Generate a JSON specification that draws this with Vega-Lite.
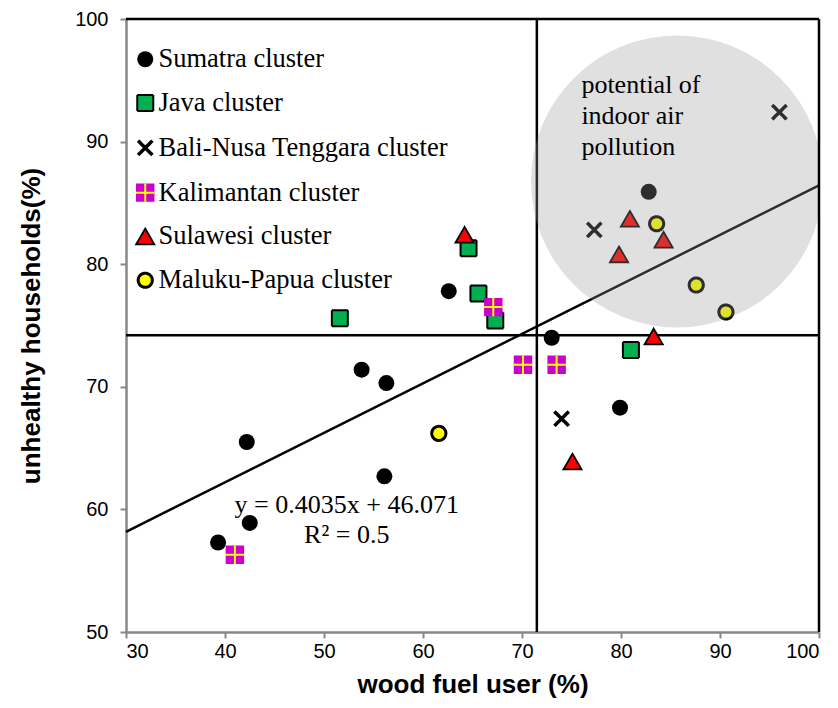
{
  "$schema": "https://vega.github.io/schema/vega-lite/v6.json",
  "width": 693,
  "height": 613,
  "autosize": {"type": "none"},
  "padding": {"left": 126, "top": 19, "right": 19, "bottom": 76},
  "background": "white",
  "config": {"view": {"stroke": null}, "font": "Liberation Sans"},
  "datasets": {
    "points": [
      {"cluster": "Sumatra cluster", "x": 53.8, "y": 71.4},
      {"cluster": "Sumatra cluster", "x": 56.3, "y": 70.3},
      {"cluster": "Sumatra cluster", "x": 42.2, "y": 65.5},
      {"cluster": "Sumatra cluster", "x": 56.1, "y": 62.7},
      {"cluster": "Sumatra cluster", "x": 42.5, "y": 58.9},
      {"cluster": "Sumatra cluster", "x": 39.3, "y": 57.3},
      {"cluster": "Sumatra cluster", "x": 62.6, "y": 77.8},
      {"cluster": "Sumatra cluster", "x": 73.0, "y": 74.0},
      {"cluster": "Sumatra cluster", "x": 79.9, "y": 68.3},
      {"cluster": "Sumatra cluster", "x": 82.8, "y": 85.9},
      {"cluster": "Java cluster", "x": 64.6, "y": 81.3},
      {"cluster": "Java cluster", "x": 65.6, "y": 77.6},
      {"cluster": "Java cluster", "x": 51.6, "y": 75.6},
      {"cluster": "Java cluster", "x": 67.3, "y": 75.4},
      {"cluster": "Java cluster", "x": 81.0, "y": 73.0},
      {"cluster": "Bali-Nusa Tenggara cluster", "x": 96.0, "y": 92.4},
      {"cluster": "Bali-Nusa Tenggara cluster", "x": 77.3, "y": 82.8},
      {"cluster": "Bali-Nusa Tenggara cluster", "x": 74.0, "y": 67.4},
      {"cluster": "Kalimantan cluster", "x": 41.0, "y": 56.3},
      {"cluster": "Kalimantan cluster", "x": 70.1, "y": 71.8},
      {"cluster": "Kalimantan cluster", "x": 73.5, "y": 71.8},
      {"cluster": "Kalimantan cluster", "x": 67.1, "y": 76.5},
      {"cluster": "Sulawesi cluster", "x": 64.2, "y": 82.4},
      {"cluster": "Sulawesi cluster", "x": 80.9, "y": 83.7},
      {"cluster": "Sulawesi cluster", "x": 84.3, "y": 82.0},
      {"cluster": "Sulawesi cluster", "x": 79.8, "y": 80.8},
      {"cluster": "Sulawesi cluster", "x": 83.3, "y": 74.1},
      {"cluster": "Sulawesi cluster", "x": 75.1, "y": 63.9},
      {"cluster": "Maluku-Papua cluster", "x": 61.6, "y": 66.2},
      {"cluster": "Maluku-Papua cluster", "x": 83.6, "y": 83.3},
      {"cluster": "Maluku-Papua cluster", "x": 87.6, "y": 78.3},
      {"cluster": "Maluku-Papua cluster", "x": 90.6, "y": 76.1}
    ],
    "trend": [
      {"x": 30, "y": 58.176},
      {"x": 100, "y": 86.421}
    ],
    "zone": [
      {"x": 85.66, "y": 86.75}
    ],
    "equation": [
      {"x": 52.3, "y": 59.7, "label": ["y = 0.4035x + 46.071", "R² = 0.5"]}
    ],
    "zonelabel": [
      {"x": 76.0, "y": 93.96, "label": ["potential of", "indoor air", "pollution"]}
    ],
    "one": [{}]
  },
  "layer": [
    {
      "data": {"name": "trend"},
      "mark": {"type": "line", "color": "black", "strokeWidth": 2.5},
      "encoding": {
        "x": {
          "field": "x", "type": "quantitative",
          "scale": {"domain": [30, 100], "nice": false, "zero": false},
          "axis": {
            "title": "wood fuel user (%)",
            "values": [30, 40, 50, 60, 70, 80, 90, 100],
            "grid": false,
            "domainColor": "#888888", "domainWidth": 2.5,
            "tickColor": "#888888", "tickWidth": 2, "tickSize": 6,
            "labelFont": "Liberation Sans", "labelFontSize": 20, "labelColor": "black", "labelPadding": 3,
            "titleFont": "Liberation Sans", "titleFontSize": 26, "titleFontWeight": "bold", "titleColor": "black", "titlePadding": 10
          }
        },
        "y": {
          "field": "y", "type": "quantitative",
          "scale": {"domain": [50, 100], "nice": false, "zero": false},
          "axis": {
            "title": "unhealthy households(%)",
            "values": [50, 60, 70, 80, 90, 100],
            "grid": false,
            "domainColor": "#888888", "domainWidth": 2.5,
            "tickColor": "#888888", "tickWidth": 2, "tickSize": 6,
            "labelFont": "Liberation Sans", "labelFontSize": 20, "labelColor": "black", "labelPadding": 12,
            "titleFont": "Liberation Sans", "titleFontSize": 26, "titleFontWeight": "bold", "titleColor": "black", "titlePadding": 30
          }
        }
      }
    },
    {
      "data": {"name": "one"},
      "mark": {"type": "rule", "color": "black", "strokeWidth": 2.5},
      "encoding": {"y": {"datum": 74.2, "type": "quantitative"}}
    },
    {
      "data": {"name": "one"},
      "mark": {"type": "rule", "color": "black", "strokeWidth": 2.5},
      "encoding": {"x": {"datum": 71.5, "type": "quantitative"}}
    },
    {
      "data": {"name": "points"},
      "mark": {"type": "point", "filled": false, "opacity": 1},
      "encoding": {
        "x": {"field": "x", "type": "quantitative"},
        "y": {"field": "y", "type": "quantitative"},
        "fill": {
          "field": "cluster", "type": "nominal",
          "scale": {
            "domain": ["Sumatra cluster", "Java cluster", "Bali-Nusa Tenggara cluster", "Kalimantan cluster", "Sulawesi cluster", "Maluku-Papua cluster"],
            "range": ["#000000", "#00b050", "transparent", "#cc00cc", "#ff0000", "#ffff00"]
          },
          "legend": {
            "title": null, "orient": "none", "legendX": 6, "legendY": 27,
            "padding": 0, "rowPadding": 16.8, "labelOffset": 0, "labelLimit": 500,
            "labelFont": "Liberation Serif", "labelFontSize": 26.5, "labelColor": "black"
          }
        },
        "stroke": {
          "field": "cluster", "type": "nominal",
          "scale": {
            "domain": ["Sumatra cluster", "Java cluster", "Bali-Nusa Tenggara cluster", "Kalimantan cluster", "Sulawesi cluster", "Maluku-Papua cluster"],
            "range": ["#000000", "#000000", "#000000", "#ffff00", "#000000", "#000000"]
          }
        },
        "shape": {
          "field": "cluster", "type": "nominal",
          "scale": {
            "domain": ["Sumatra cluster", "Java cluster", "Bali-Nusa Tenggara cluster", "Kalimantan cluster", "Sulawesi cluster", "Maluku-Papua cluster"],
            "range": ["circle", "square", "M-0.9,-0.9L0.9,0.9M-0.9,0.9L0.9,-0.9", "M0,-1L0,1L0,0L-1,0L1,0L0,0L0,-1L1,-1L1,1L-1,1L-1,-1Z", "triangle-up", "circle"]
          }
        },
        "size": {
          "field": "cluster", "type": "nominal",
          "scale": {
            "type": "ordinal",
            "domain": ["Sumatra cluster", "Java cluster", "Bali-Nusa Tenggara cluster", "Kalimantan cluster", "Sulawesi cluster", "Maluku-Papua cluster"],
            "range": [256, 256, 256, 340, 330, 200]
          }
        },
        "strokeWidth": {
          "field": "cluster", "type": "nominal",
          "scale": {
            "type": "ordinal",
            "domain": ["Sumatra cluster", "Java cluster", "Bali-Nusa Tenggara cluster", "Kalimantan cluster", "Sulawesi cluster", "Maluku-Papua cluster"],
            "range": [0, 2, 3.5, 2, 1.8, 3]
          }
        },
        "strokeDash": {
          "field": "cluster", "type": "nominal",
          "scale": {
            "domain": ["Sumatra cluster", "Java cluster", "Bali-Nusa Tenggara cluster", "Kalimantan cluster", "Sulawesi cluster", "Maluku-Papua cluster"],
            "range": [[1, 0], [1, 0], [1, 0], [70, 1000], [1, 0], [1, 0]]
          }
        }
      }
    },
    {
      "data": {"name": "zone"},
      "mark": {"type": "point", "shape": "circle", "filled": true, "color": "#999999", "opacity": 0.3, "size": 85264, "strokeWidth": 0, "clip": true},
      "encoding": {
        "x": {"field": "x", "type": "quantitative"},
        "y": {"field": "y", "type": "quantitative"}
      }
    },
    {
      "data": {"name": "equation"},
      "mark": {"type": "text", "font": "Liberation Serif", "fontSize": 26, "color": "black", "align": "center", "baseline": "alphabetic", "lineHeight": 30},
      "encoding": {
        "x": {"field": "x", "type": "quantitative"},
        "y": {"field": "y", "type": "quantitative"},
        "text": {"field": "label"}
      }
    },
    {
      "data": {"name": "zonelabel"},
      "mark": {"type": "text", "font": "Liberation Serif", "fontSize": 26, "color": "black", "align": "left", "baseline": "alphabetic", "lineHeight": 31},
      "encoding": {
        "x": {"field": "x", "type": "quantitative"},
        "y": {"field": "y", "type": "quantitative"},
        "text": {"field": "label"}
      }
    },
    {
      "data": {"name": "one"},
      "mark": {"type": "rule", "color": "black", "strokeWidth": 2.5},
      "encoding": {"y": {"datum": 100, "type": "quantitative"}}
    },
    {
      "data": {"name": "one"},
      "mark": {"type": "rule", "color": "black", "strokeWidth": 2.5},
      "encoding": {"x": {"datum": 100, "type": "quantitative"}}
    }
  ]
}
